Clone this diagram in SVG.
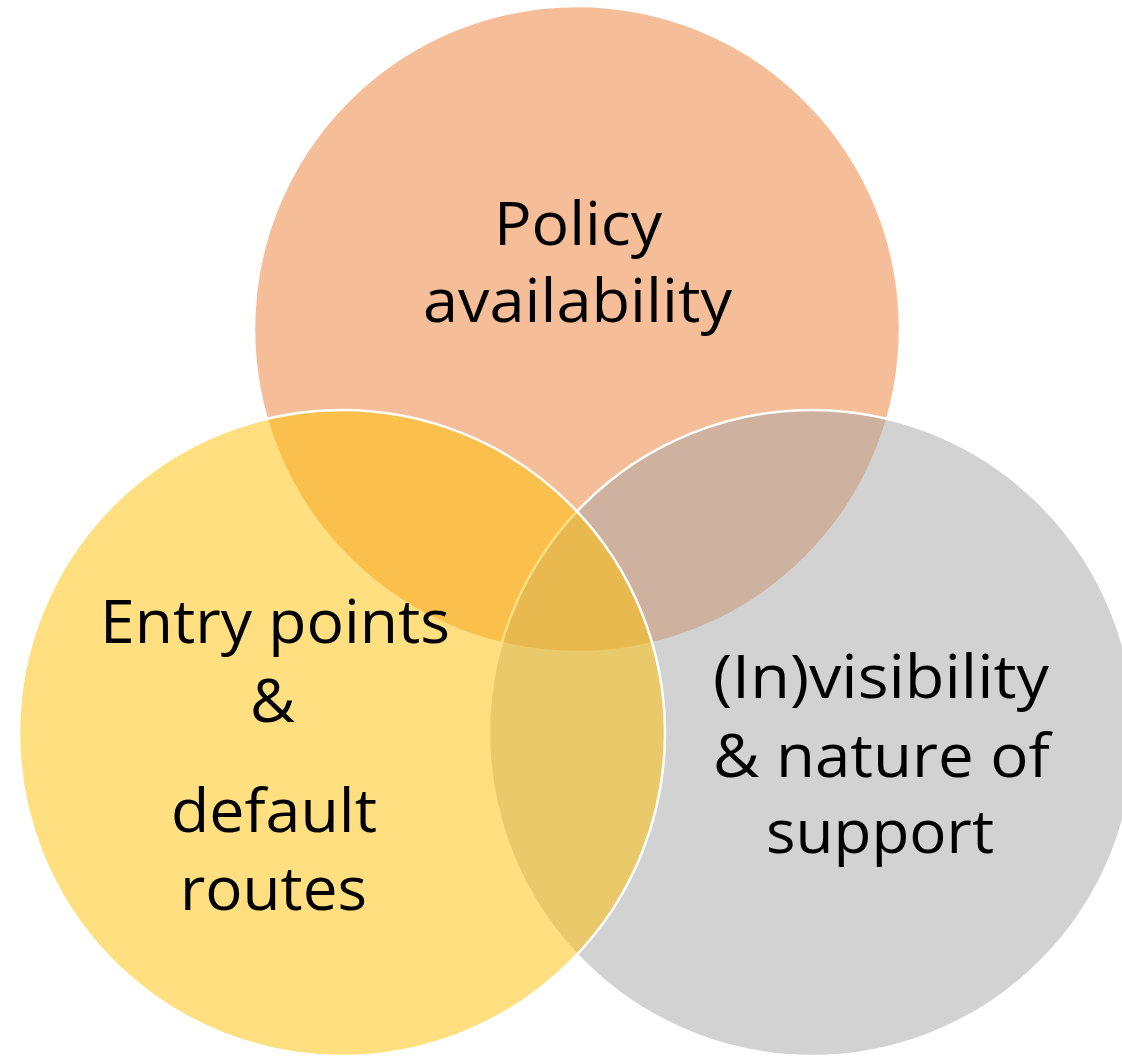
<svg xmlns="http://www.w3.org/2000/svg" width="1122" height="1056" viewBox="0 0 1122 1056">
  <style>
    .c { stroke: #FFFFFF; stroke-width: 2.5; fill-opacity: 0.5; }
    .t { font-family: "Open Sans", "Liberation Sans", sans-serif; font-size: 60px; fill: #000000; }
  </style>
  <rect width="1122" height="1056" fill="#FFFFFF"/>
  <g id="policy">
    <circle class="c" cx="577" cy="329" r="323" fill="#ED7D31"/>
    <text class="t" x="494" y="245" textLength="168" lengthAdjust="spacingAndGlyphs">Policy</text>
    <text class="t" x="423" y="322" textLength="309" lengthAdjust="spacingAndGlyphs">availability</text>
  </g>
  <g id="visibility">
    <circle class="c" cx="812" cy="733" r="323" fill="#A5A5A5"/>
    <text class="t" x="713" y="698" textLength="336" lengthAdjust="spacingAndGlyphs">(In)visibility</text>
    <text class="t" x="713" y="777" textLength="337" lengthAdjust="spacingAndGlyphs">&amp; nature of</text>
    <text class="t" x="766" y="853" textLength="228" lengthAdjust="spacingAndGlyphs">support</text>
  </g>
  <g id="entry">
    <circle class="c" cx="342" cy="733" r="323" fill="#FFC000"/>
    <text class="t" x="100" y="643" textLength="350" lengthAdjust="spacingAndGlyphs">Entry points</text>
    <text class="t" x="250" y="722" textLength="45" lengthAdjust="spacingAndGlyphs">&amp;</text>
    <text class="t" x="171" y="832" textLength="206" lengthAdjust="spacingAndGlyphs">default</text>
    <text class="t" x="180" y="910" textLength="187" lengthAdjust="spacingAndGlyphs">routes</text>
  </g>
  <g id="connectors"/>
</svg>
